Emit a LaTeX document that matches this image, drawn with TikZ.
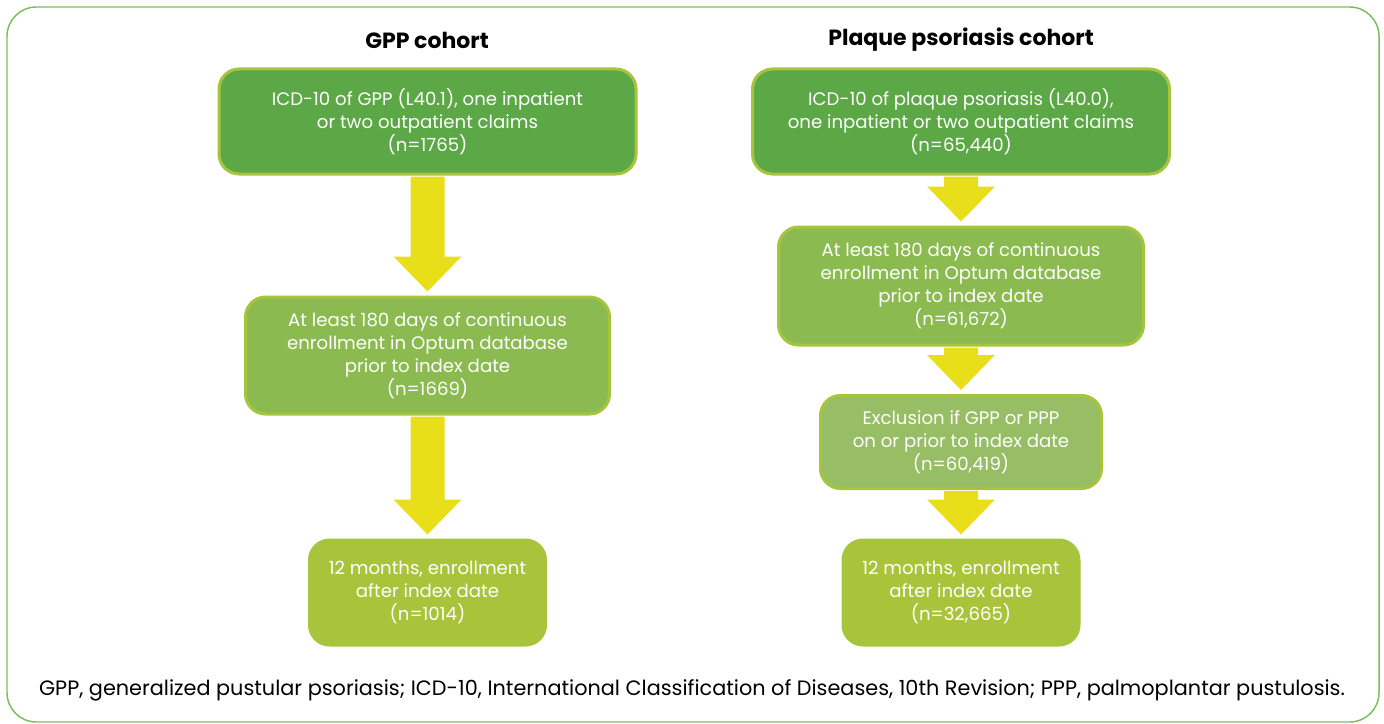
\documentclass[tikz,border=0pt]{standalone}
\usepackage{fontspec}
\setmainfont{Poppins}
\usetikzlibrary{calc}
\definecolor{dkgreen}{HTML}{5DA846}
\definecolor{mdgreen}{HTML}{8BBB50}
\definecolor{exgreen}{HTML}{97BE64}
\definecolor{ltgreen}{HTML}{A9C43A}
\definecolor{rimgreen}{HTML}{A6C53C}
\definecolor{arrowyellow}{HTML}{E8DF1A}
\definecolor{framegreen}{HTML}{7CBD5E}
\newdimen\px \px=0.75pt
\tikzstyle{stepbox} = [rectangle, rounded corners=15pt, draw=rimgreen, line width=2.25pt, text=white, align=center, inner sep=0pt, font=\fontsize{13.6}{17.3}\selectfont]
\tikzstyle{cohort} = [font=\fontsize{16.5}{19}\selectfont\bfseries]
\tikzstyle{note} = [font=\fontsize{15.6}{18}\selectfont]
\newcommand{\fatdown}[2]{\fill[arrowyellow] ($(#1.south)+(-17,1.2)$) -- ($(#2.north)+(-17,-39)$) -- ($(#2.north)+(-34,-39)$) -- ($(#2.north)+(0,-4)$) -- ($(#2.north)+(34,-39)$) -- ($(#2.north)+(17,-39)$) -- ($(#1.south)+(17,1.2)$) -- cycle;}

\begin{document}
\begin{tikzpicture}[x=0.75pt, y=-0.75pt]
\useasboundingbox (0,0) rectangle (1384,724);
\draw[framegreen, line width=1.1pt, rounded corners=22pt] (7,7) rectangle (1379,722);
% GPP cohort
\node (gpptitle) [cohort] at (427,40) {GPP cohort};
\node (gppicd) [stepbox, fill=dkgreen, minimum width=417\px, minimum height=105\px] at (427.5,121.5) {ICD-10 of GPP (L40.1), one inpatient\\or two outpatient claims\\(n=1765)};
\node (gppenrol) [stepbox, fill=mdgreen, minimum width=364\px, minimum height=117\px] at (427.5,355.5) {At least 180 days of continuous\\enrollment in Optum database\\prior to index date\\(n=1669)};
\node (gppfollow) [stepbox, fill=ltgreen, minimum width=236\px, minimum height=105\px] at (427.5,592.5) {12 months, enrollment\\after index date\\(n=1014)};
% Plaque psoriasis cohort
\node (psotitle) [cohort] at (961,40) {Plaque psoriasis cohort};
\node (psoicd) [stepbox, fill=dkgreen, minimum width=417\px, minimum height=105\px] at (961,121.5) {ICD-10 of plaque psoriasis (L40.0),\\one inpatient or two outpatient claims\\(n=65,440)};
\node (psoenrol) [stepbox, fill=mdgreen, minimum width=365\px, minimum height=118\px] at (961,286) {At least 180 days of continuous\\enrollment in Optum database\\prior to index date\\(n=61,672)};
\node (psoexcl) [stepbox, fill=exgreen, minimum width=281\px, minimum height=93\px] at (961,442) {Exclusion if GPP or PPP\\on or prior to index date\\(n=60,419)};
\node (psofollow) [stepbox, fill=ltgreen, minimum width=236\px, minimum height=105\px] at (961,592.5) {12 months, enrollment\\after index date\\(n=32,665)};
% arrows
\fatdown{gppicd}{gppenrol}
\fatdown{gppenrol}{gppfollow}
\fatdown{psoicd}{psoenrol}
\fatdown{psoenrol}{psoexcl}
\fatdown{psoexcl}{psofollow}
% footnote
\node (abbrev) [note] at (692,690) {GPP, generalized pustular psoriasis; ICD-10, International Classification of Diseases, 10th Revision; PPP, palmoplantar pustulosis.};
\end{tikzpicture}
\end{document}
